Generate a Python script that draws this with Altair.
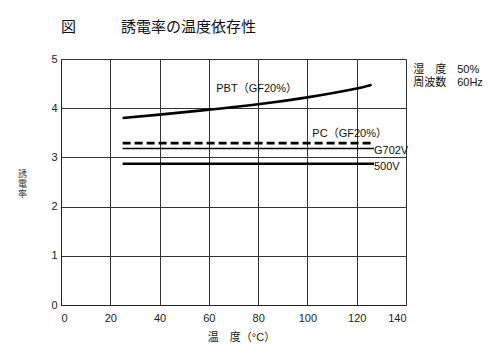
import altair as alt
import pandas as pd

# Data
pbt_temp = [25, 40, 60, 80, 100, 120, 126]
pbt_val = [3.80, 3.87, 3.97, 4.08, 4.22, 4.40, 4.48]
pc_temp = [25, 127]
pc_val = [3.29, 3.29]
g702_temp = [25, 127]
g702_val = [3.18, 3.18]
v500_temp = [25, 127]
v500_val = [2.87, 2.87]

label_text = ["PBT（GF20%）", "PC（GF20%）", "G702V", "500V"]
label_x = [63, 102, 127, 127]
label_y = [4.40, 3.48, 3.13, 2.81]

note_text = ["湿　度　50%", "周波数　60Hz"]
note_x = [142.9, 142.9]
note_y = [4.78, 4.52]

FONT = "Liberation Sans, Noto Sans CJK JP"

def series(t, v, name):
    return pd.DataFrame({"temp": t, "val": v, "series": name})

xs = alt.Scale(domain=[0, 140], nice=False)
ys = alt.Scale(domain=[0, 5], nice=False)

X = alt.X("temp:Q", scale=xs,
          axis=alt.Axis(values=[0, 20, 40, 60, 80, 100, 120, 140], tickSize=0,
                        labelPadding=7, labelFontSize=11, labelColor="#222",
                        title="温　度（°C）", titleFontSize=11, titleFontWeight="normal",
                        titleX=180, titlePadding=8, titleColor="#222",
                        gridColor="#333", gridWidth=1, domainColor="#222"))
Y = alt.Y("val:Q", scale=ys,
          axis=alt.Axis(values=[0, 1, 2, 3, 4, 5], tickSize=0, labelPadding=4,
                        labelFontSize=11, labelColor="#222",
                        title=["誘", "電", "率"], titleAngle=0, titleFontSize=9,
                        titleFontWeight="normal", titleX=-39, titleY=114,
                        titleAlign="center", titleBaseline="middle", titleLineHeight=10,
                        titleColor="#333",
                        gridColor="#333", gridWidth=1, domainColor="#222"))

pbt = alt.Chart(series(pbt_temp, pbt_val, "PBT")).mark_line(
    color="black", strokeWidth=2.6, interpolate="natural").encode(x=X, y=Y)
pc = alt.Chart(series(pc_temp, pc_val, "PC")).mark_line(
    color="black", strokeWidth=2.6, strokeDash=[8, 4]).encode(x=X, y=Y)
g702 = alt.Chart(series(g702_temp, g702_val, "G702V")).mark_line(
    color="black", strokeWidth=1.5).encode(x=X, y=Y)
v500 = alt.Chart(series(v500_temp, v500_val, "500V")).mark_line(
    color="black", strokeWidth=2.6).encode(x=X, y=Y)

labels = alt.Chart(pd.DataFrame({"t": label_text, "x": label_x, "y": label_y})).mark_text(
    align="left", baseline="middle", fontSize=11, font=FONT, color="#111").encode(
    x=alt.X("x:Q", scale=xs), y=alt.Y("y:Q", scale=ys), text="t:N")

notes = alt.Chart(pd.DataFrame({"t": note_text, "x": note_x, "y": note_y})).mark_text(
    align="left", baseline="middle", fontSize=11, font=FONT, color="#111").encode(
    x=alt.X("x:Q", scale=xs), y=alt.Y("y:Q", scale=ys), text="t:N")

chart = alt.layer(pbt, pc, g702, v500, labels, notes).properties(
    width=345, height=246,
    autosize=alt.AutoSizeParams(type="none"),
    padding={"left": 53, "top": 51, "right": 86, "bottom": 50},
    title=alt.TitleParams("図　　　誘電率の温度依存性", anchor="start", frame="group",
                          fontSize=15, fontWeight="normal", offset=18, color="#111",
                          font=FONT),
).configure_view(stroke="#222", strokeWidth=1).configure(font=FONT).configure_axis(
    labelFont=FONT, titleFont=FONT)

chart.save("out.html", embed_options={"renderer": "svg", "actions": False})
